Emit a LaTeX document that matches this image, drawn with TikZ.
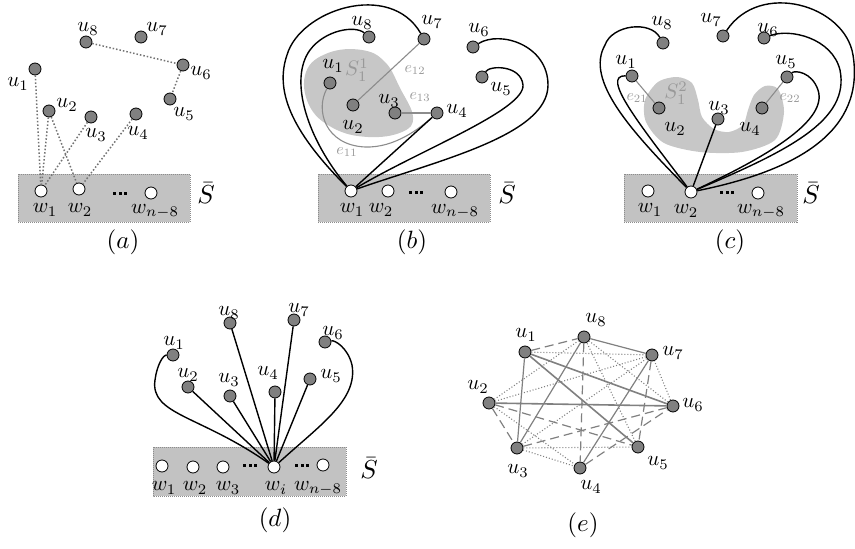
\documentclass[tikz,border=0pt]{standalone}
\definecolor{ugray}{gray}{0.5}
\definecolor{rectgray}{gray}{0.76}
\definecolor{blobgray}{gray}{0.78}
\definecolor{edgegray}{gray}{0.55}
\definecolor{textgray}{gray}{0.6}
\definecolor{dotgray}{gray}{0.45}
\definecolor{boxgray}{gray}{0.55}
\tikzset{
  ellip/.pic={\fill (-7,-1.5) rectangle (-4,1.5); \fill (-1.5,-1.5) rectangle (1.5,1.5); \fill (4,-1.5) rectangle (7,1.5);}
}
\begin{document}
\begin{tikzpicture}[x=1pt,y=-1pt,
  unode/.style={circle,draw=black,fill=ugray,line width=0.8pt,minimum size=12pt,inner sep=0pt},
  wnode/.style={circle,draw=black,fill=white,line width=0.8pt,minimum size=12pt,inner sep=0pt},
  lab/.style={inner sep=0pt,scale=2.1},
  glab/.style={inner sep=0pt,text=textgray,scale=1.6},
  slab/.style={inner sep=0pt,text=textgray,scale=2.1},
  capt/.style={inner sep=0pt,scale=2.5},
  sbar/.style={inner sep=0pt,scale=2.6},
  setbox/.style={fill=rectgray,draw=boxgray,dash pattern=on 1pt off 1pt,line width=0.7pt},
  blob/.style={fill=blobgray,draw=none},
  blk/.style={draw=black,line width=1.4pt},
  gedge/.style={draw=edgegray,line width=1.1pt},
  adot/.style={draw=dotgray,line width=1.5pt,dash pattern=on 1.5pt off 2pt},
  esol/.style={draw=ugray,line width=1.2pt},
  esolt/.style={draw=ugray,line width=1.6pt},
  edash/.style={draw=ugray,line width=1.2pt,dash pattern=on 9pt off 5pt},
  edot/.style={draw=ugray,line width=1.1pt,dash pattern=on 1pt off 2pt}
]
\useasboundingbox (0,0) rectangle (855,549);

% ---------------- backgrounds ----------------
\draw[setbox] (18,174) rectangle (190,222);
\draw[setbox] (318,174) rectangle (490,222);
\draw[setbox] (624,174) rectangle (797,222);
\draw[setbox] (153,447) rectangle (346,496);
\fill[blob] plot[smooth cycle,tension=0.7] coordinates {(306,72) (328,53) (362,50) (385,62) (400,88) (413,117) (402,132) (368,137) (333,128) (309,105)};
\fill[blob] plot[smooth cycle,tension=0.5] coordinates {(645,100) (658,82) (677,77) (692,83) (698,100) (702,117) (714,129) (729,132) (743,125) (748,110) (754,95) (765,86) (778,89) (784,112) (775,140) (742,152) (700,152) (664,143) (646,122)};

% ---------------- panel (a) ----------------
\node[unode] (a1) at (35,69) {};
\node[unode] (a2) at (49,111) {};
\node[unode] (a3) at (91,117) {};
\node[unode] (a4) at (136,114) {};
\node[unode] (a5) at (170,99) {};
\node[unode] (a6) at (183,65) {};
\node[unode] (a7) at (141,37) {};
\node[unode] (a8) at (86,42) {};
\node[wnode] (aw1) at (41,191) {};
\node[wnode] (aw2) at (79,189) {};
\node[wnode] (awn) at (151,193) {};
\pic at (120,193) {ellip};
\draw[adot] (a8) -- (a6);
\draw[adot] (a6) -- (a5);
\draw[adot] (a1) -- (aw1);
\draw[adot] (a2) -- (aw1);
\draw[adot] (a2) -- (aw2);
\draw[adot] (a3) -- (aw1);
\draw[adot] (a4) -- (aw2);
\node[lab] (la1) at (18,84) {$u_1$};
\node[lab] (la2) at (67,105) {$u_2$};
\node[lab] (la3) at (96,135) {$u_3$};
\node[lab] (la4) at (138,133) {$u_4$};
\node[lab] (la5) at (184,114) {$u_5$};
\node[lab] (la6) at (201,73) {$u_6$};
\node[lab] (la7) at (157,29) {$u_7$};
\node[lab] (la8) at (88,29) {$u_8$};
\node[lab] (law1) at (45,210) {$w_1$};
\node[lab] (law2) at (80,210) {$w_2$};
\node[lab] (lawn) at (155,211) {$w_{n-8}$};
\node[sbar] (sa) at (206,193) {$\bar{S}$};
\node[capt] (ca) at (123,242) {$(a)$};

% ---------------- panel (b) ----------------
\node[unode] (b1) at (330,83) {};
\node[unode] (b2) at (353,105) {};
\node[unode] (b3) at (395,113) {};
\node[unode] (b4) at (437,113) {};
\node[unode] (b5) at (482,77) {};
\node[unode] (b6) at (473,47) {};
\node[unode] (b7) at (424,39) {};
\node[unode] (b8) at (369,37) {};
\node[wnode] (bw1) at (351,191) {};
\node[wnode] (bw2) at (388,191) {};
\node[wnode] (bwn) at (451,192) {};
\pic at (416,192) {ellip};
\draw[gedge] (b2) -- (b7);
\draw[gedge] (b3) -- (b4);
\draw[gedge] (b1) .. controls (315,110) and (325,145) .. (365,147) .. controls (395,148) and (420,128) .. (b4);
\draw[blk] (bw1) -- (b4);
\draw[blk] (bw1) .. controls (290,130) and (275,90) .. (287,55) .. controls (300,10) and (390,-20) .. (b7);
\draw[blk] (bw1) .. controls (308,140) and (288,80) .. (310,50) .. controls (325,30) and (355,25) .. (b8);
\draw[blk] (bw1) .. controls (420,150) and (525,110) .. (523,85) .. controls (521,65) and (490,65) .. (b5);
\draw[blk] (bw1) .. controls (440,160) and (548,135) .. (548,85) .. controls (548,45) and (500,30) .. (b6);
\node[lab] (lb1) at (333,66) {$u_1$};
\node[slab] (sb) at (357,70) {$S_1^1$};
\node[lab] (lb2) at (353,127) {$u_2$};
\node[lab] (lb3) at (389,101) {$u_3$};
\node[lab] (lb4) at (457,111) {$u_4$};
\node[lab] (lb5) at (501,89) {$u_5$};
\node[lab] (lb6) at (479,30) {$u_6$};
\node[lab] (lb7) at (432,22) {$u_7$};
\node[lab] (lb8) at (362,23) {$u_8$};
\node[glab] (le12) at (415,70) {$e_{12}$};
\node[glab] (le13) at (420,97) {$e_{13}$};
\node[glab] (le11) at (347,152) {$e_{11}$};
\node[lab] (lbw1) at (352,210) {$w_1$};
\node[lab] (lbw2) at (381,210) {$w_2$};
\node[lab] (lbwn) at (455,211) {$w_{n-8}$};
\node[sbar] (sbb) at (507,193) {$\bar{S}$};
\node[capt] (cb) at (412,242) {$(b)$};

% ---------------- panel (c) ----------------
\node[unode] (c1) at (632,76) {};
\node[unode] (c2) at (659,108) {};
\node[unode] (c3) at (718,119) {};
\node[unode] (c4) at (762,108) {};
\node[unode] (c5) at (787,77) {};
\node[unode] (c6) at (764,38) {};
\node[unode] (c7) at (723,36) {};
\node[unode] (c8) at (663,43) {};
\node[wnode] (cw1) at (648,191) {};
\node[wnode] (cw2) at (691,192) {};
\node[wnode] (cwn) at (758,193) {};
\pic at (727,192) {ellip};
\draw[gedge] (c1) -- (c2);
\draw[gedge] (c5) -- (c4);
\draw[blk] (cw2) -- (c3);
\draw[blk] (cw2) .. controls (640,125) and (600,75) .. (c1);
\draw[blk] (cw2) .. controls (630,130) and (585,80) .. (605,45) .. controls (612,25) and (650,20) .. (c8);
\draw[blk] (cw2) .. controls (770,155) and (828,120) .. (818,90) .. controls (812,72) and (795,70) .. (c5);
\draw[blk] (cw2) .. controls (790,150) and (850,120) .. (840,70) .. controls (832,38) and (790,28) .. (c6);
\draw[blk] (cw2) .. controls (800,170) and (865,130) .. (853,55) .. controls (845,5) and (760,-20) .. (c7);
\node[lab] (lc1) at (626,62) {$u_1$};
\node[slab] (sc) at (676,93) {$S_1^2$};
\node[lab] (lc2) at (675,129) {$u_2$};
\node[lab] (lc3) at (719,108) {$u_3$};
\node[lab] (lc4) at (750,129) {$u_4$};
\node[lab] (lc5) at (786,62) {$u_5$};
\node[lab] (lc6) at (768,30) {$u_6$};
\node[lab] (lc7) at (711,20) {$u_7$};
\node[lab] (lc8) at (662,23) {$u_8$};
\node[glab] (le21) at (637,98) {$e_{21}$};
\node[glab] (le22) at (790,98) {$e_{22}$};
\node[lab] (lcw1) at (650,210) {$w_1$};
\node[lab] (lcw2) at (686,211) {$w_2$};
\node[lab] (lcwn) at (761,211) {$w_{n-8}$};
\node[sbar] (scc) at (811,193) {$\bar{S}$};
\node[capt] (cc) at (730,242) {$(c)$};

% ---------------- panel (d) ----------------
\node[unode] (d1) at (173,355) {};
\node[unode] (d2) at (188,387) {};
\node[unode] (d3) at (230,396) {};
\node[unode] (d4) at (275,392) {};
\node[unode] (d5) at (310,379) {};
\node[unode] (d6) at (325,342) {};
\node[unode] (d7) at (294,320) {};
\node[unode] (d8) at (230,323) {};
\node[wnode] (dw1) at (162,466) {};
\node[wnode] (dw2) at (193,467) {};
\node[wnode] (dw3) at (223,467) {};
\node[wnode] (dwi) at (274,467) {};
\node[wnode] (dwn) at (323,465) {};
\pic at (250,465) {ellip};
\pic at (302,465) {ellip};
\draw[blk] (dwi) -- (d2);
\draw[blk] (dwi) -- (d3);
\draw[blk] (dwi) -- (d4);
\draw[blk] (dwi) -- (d5);
\draw[blk] (dwi) -- (d7);
\draw[blk] (dwi) -- (d8);
\draw[blk] (dwi) .. controls (200,415) and (150,415) .. (155,380) .. controls (157,365) and (163,355) .. (d1);
\draw[blk] (dwi) .. controls (320,425) and (358,400) .. (352,365) .. controls (348,348) and (335,340) .. (d6);
\node[lab] (ld1) at (174,343) {$u_1$};
\node[lab] (ld2) at (188,375) {$u_2$};
\node[lab] (ld3) at (229,380) {$u_3$};
\node[lab] (ld4) at (268,373) {$u_4$};
\node[lab] (ld5) at (331,376) {$u_5$};
\node[lab] (ld6) at (333,333) {$u_6$};
\node[lab] (ld7) at (299,310) {$u_7$};
\node[lab] (ld8) at (229,313) {$u_8$};
\node[lab] (ldw1) at (164,488) {$w_1$};
\node[lab] (ldw2) at (195,488) {$w_2$};
\node[lab] (ldw3) at (228,488) {$w_3$};
\node[lab] (ldwi) at (276,488) {$w_i$};
\node[lab] (ldwn) at (318,488) {$w_{n-8}$};
\node[sbar] (sd) at (369,468) {$\bar{S}$};
\node[capt] (cd) at (275,520) {$(d)$};

% ---------------- panel (e) ----------------
\node[unode] (e1) at (525,352) {};
\node[unode] (e2) at (489,403) {};
\node[unode] (e3) at (517,448) {};
\node[unode] (e4) at (580,468) {};
\node[unode] (e5) at (638,447) {};
\node[unode] (e6) at (673,406) {};
\node[unode] (e7) at (652,355) {};
\node[unode] (e8) at (584,337) {};
\draw[edot] (e1) -- (e7);
\draw[edot] (e2) -- (e4);
\draw[edot] (e2) -- (e7);
\draw[edot] (e2) -- (e8);
\draw[edot] (e3) -- (e4);
\draw[edot] (e3) -- (e5);
\draw[edot] (e3) -- (e7);
\draw[edot] (e5) -- (e8);
\draw[edot] (e6) -- (e7);
\draw[edot] (e6) -- (e8);
\draw[edash] (e1) -- (e8);
\draw[edash] (e8) -- (e4);
\draw[edash] (e2) -- (e3);
\draw[edash] (e2) -- (e5);
\draw[edash] (e7) -- (e5);
\draw[edash] (e3) -- (e6);
\draw[edash] (e4) -- (e6);
\draw[esol] (e8) -- (e7);
\draw[esol] (e1) -- (e3);
\draw[esol] (e3) -- (e8);
\draw[esol] (e7) -- (e4);
\draw[esolt] (e1) -- (e6);
\draw[esolt] (e1) -- (e5);
\draw[esolt] (e2) -- (e6);
\node[lab] (le1) at (526,335) {$u_1$};
\node[lab] (le2) at (478,387) {$u_2$};
\node[lab] (le3) at (518,471) {$u_3$};
\node[lab] (le4) at (591,487) {$u_4$};
\node[lab] (le5) at (658,463) {$u_5$};
\node[lab] (le6) at (693,405) {$u_6$};
\node[lab] (le7) at (673,353) {$u_7$};
\node[lab] (le8) at (596,320) {$u_8$};
\node[capt] (ce) at (583,525) {$(e)$};
\end{tikzpicture}
\end{document}
